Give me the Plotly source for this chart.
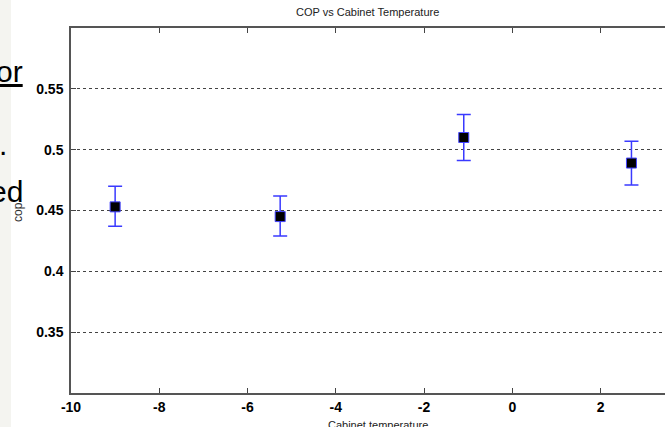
import plotly.graph_objects as go

# Data
cabinet_temp = [-9.0, -5.26, -1.1, 2.7]
cop = [0.453, 0.445, 0.510, 0.489]
err_plus = [0.017, 0.017, 0.019, 0.018]
err_minus = [0.016, 0.016, 0.019, 0.018]

x_ticks = [-10, -8, -6, -4, -2, 0, 2]
x_tick_labels = ["-10", "-8", "-6", "-4", "-2", "0", "2"]
y_ticks = [0.35, 0.4, 0.45, 0.5, 0.55]
y_tick_labels = ["0.35", "0.4", "0.45", "0.5", "0.55"]

W, H = 665, 427
L, R, T, B = 71, 0, 28, 34
pw, ph = W - L - R, H - T - B

fig = go.Figure()
fig.add_trace(go.Scatter(
    x=cabinet_temp, y=cop, mode="markers",
    marker=dict(symbol="square", size=10, color="black",
                line=dict(color="#4444ff", width=1)),
    error_y=dict(type="data", symmetric=False, array=err_plus,
                 arrayminus=err_minus, color="#3a3aff", thickness=1.5, width=7),
    showlegend=False,
))

axis_font = dict(family="Arial, Liberation Sans", size=14, color="black", weight="bold")
fig.update_xaxes(range=[-10, 3.46], tickvals=x_ticks, ticktext=x_tick_labels,
                 ticks="inside", ticklen=5, tickcolor="#444", showline=True,
                 linecolor="#555", linewidth=1.5, mirror="ticks", showgrid=False,
                 zeroline=False, tickfont=axis_font)
fig.update_yaxes(range=[0.3, 0.6], tickvals=y_ticks, ticktext=y_tick_labels,
                 ticks="inside", ticklen=5, tickcolor="#444", showline=True,
                 linecolor="#555", linewidth=1.5, mirror=False, showgrid=True,
                 gridcolor="#444", gridwidth=1, griddash="3px,3px", zeroline=False,
                 tickfont=axis_font, ticklabelstandoff=3)

# left slide strip
fig.add_shape(type="rect", xref="paper", yref="paper", layer="below",
              x0=-L / pw, x1=(11 - L) / pw, y0=-B / ph, y1=1 + T / ph,
              fillcolor="#f4f4f0", line=dict(width=0))

def px_x(x):
    return (x - L) / pw

def px_y(y):
    return 1 - (y - T) / ph

slide_font = dict(family="Arial, Liberation Sans", size=30, color="black")
fig.add_annotation(text="<u>or</u>", x=px_x(25), y=px_y(72), xref="paper", yref="paper",
                   xanchor="right", yanchor="middle", showarrow=False, font=slide_font)
fig.add_annotation(text=".", x=px_x(9), y=px_y(144), xref="paper", yref="paper",
                   xanchor="right", yanchor="middle", showarrow=False, font=slide_font)
fig.add_annotation(text="ed", x=px_x(25), y=px_y(192), xref="paper", yref="paper",
                   xanchor="right", yanchor="middle", showarrow=False, font=slide_font)

fig.add_annotation(text="cop", x=px_x(18), y=px_y(212), xref="paper", yref="paper",
                   textangle=-90, showarrow=False, xanchor="center", yanchor="middle",
                   font=dict(family="Arial, Liberation Sans", size=12, color="#333"))
fig.add_annotation(text="Cabinet temperature", x=px_x(378), y=px_y(417), xref="paper",
                   yref="paper", showarrow=False, xanchor="center", yanchor="top",
                   font=dict(family="Arial, Liberation Sans", size=11, color="#222"))
fig.add_annotation(text="COP vs Cabinet Temperature", x=px_x(367), y=px_y(12),
                   xref="paper", yref="paper", showarrow=False, xanchor="center",
                   yanchor="middle",
                   font=dict(family="Arial, Liberation Sans", size=11, color="#222"))

fig.update_layout(width=W, height=H, margin=dict(l=L, r=R, t=T, b=B),
                  paper_bgcolor="white", plot_bgcolor="white")
fig.write_html("out.html")
